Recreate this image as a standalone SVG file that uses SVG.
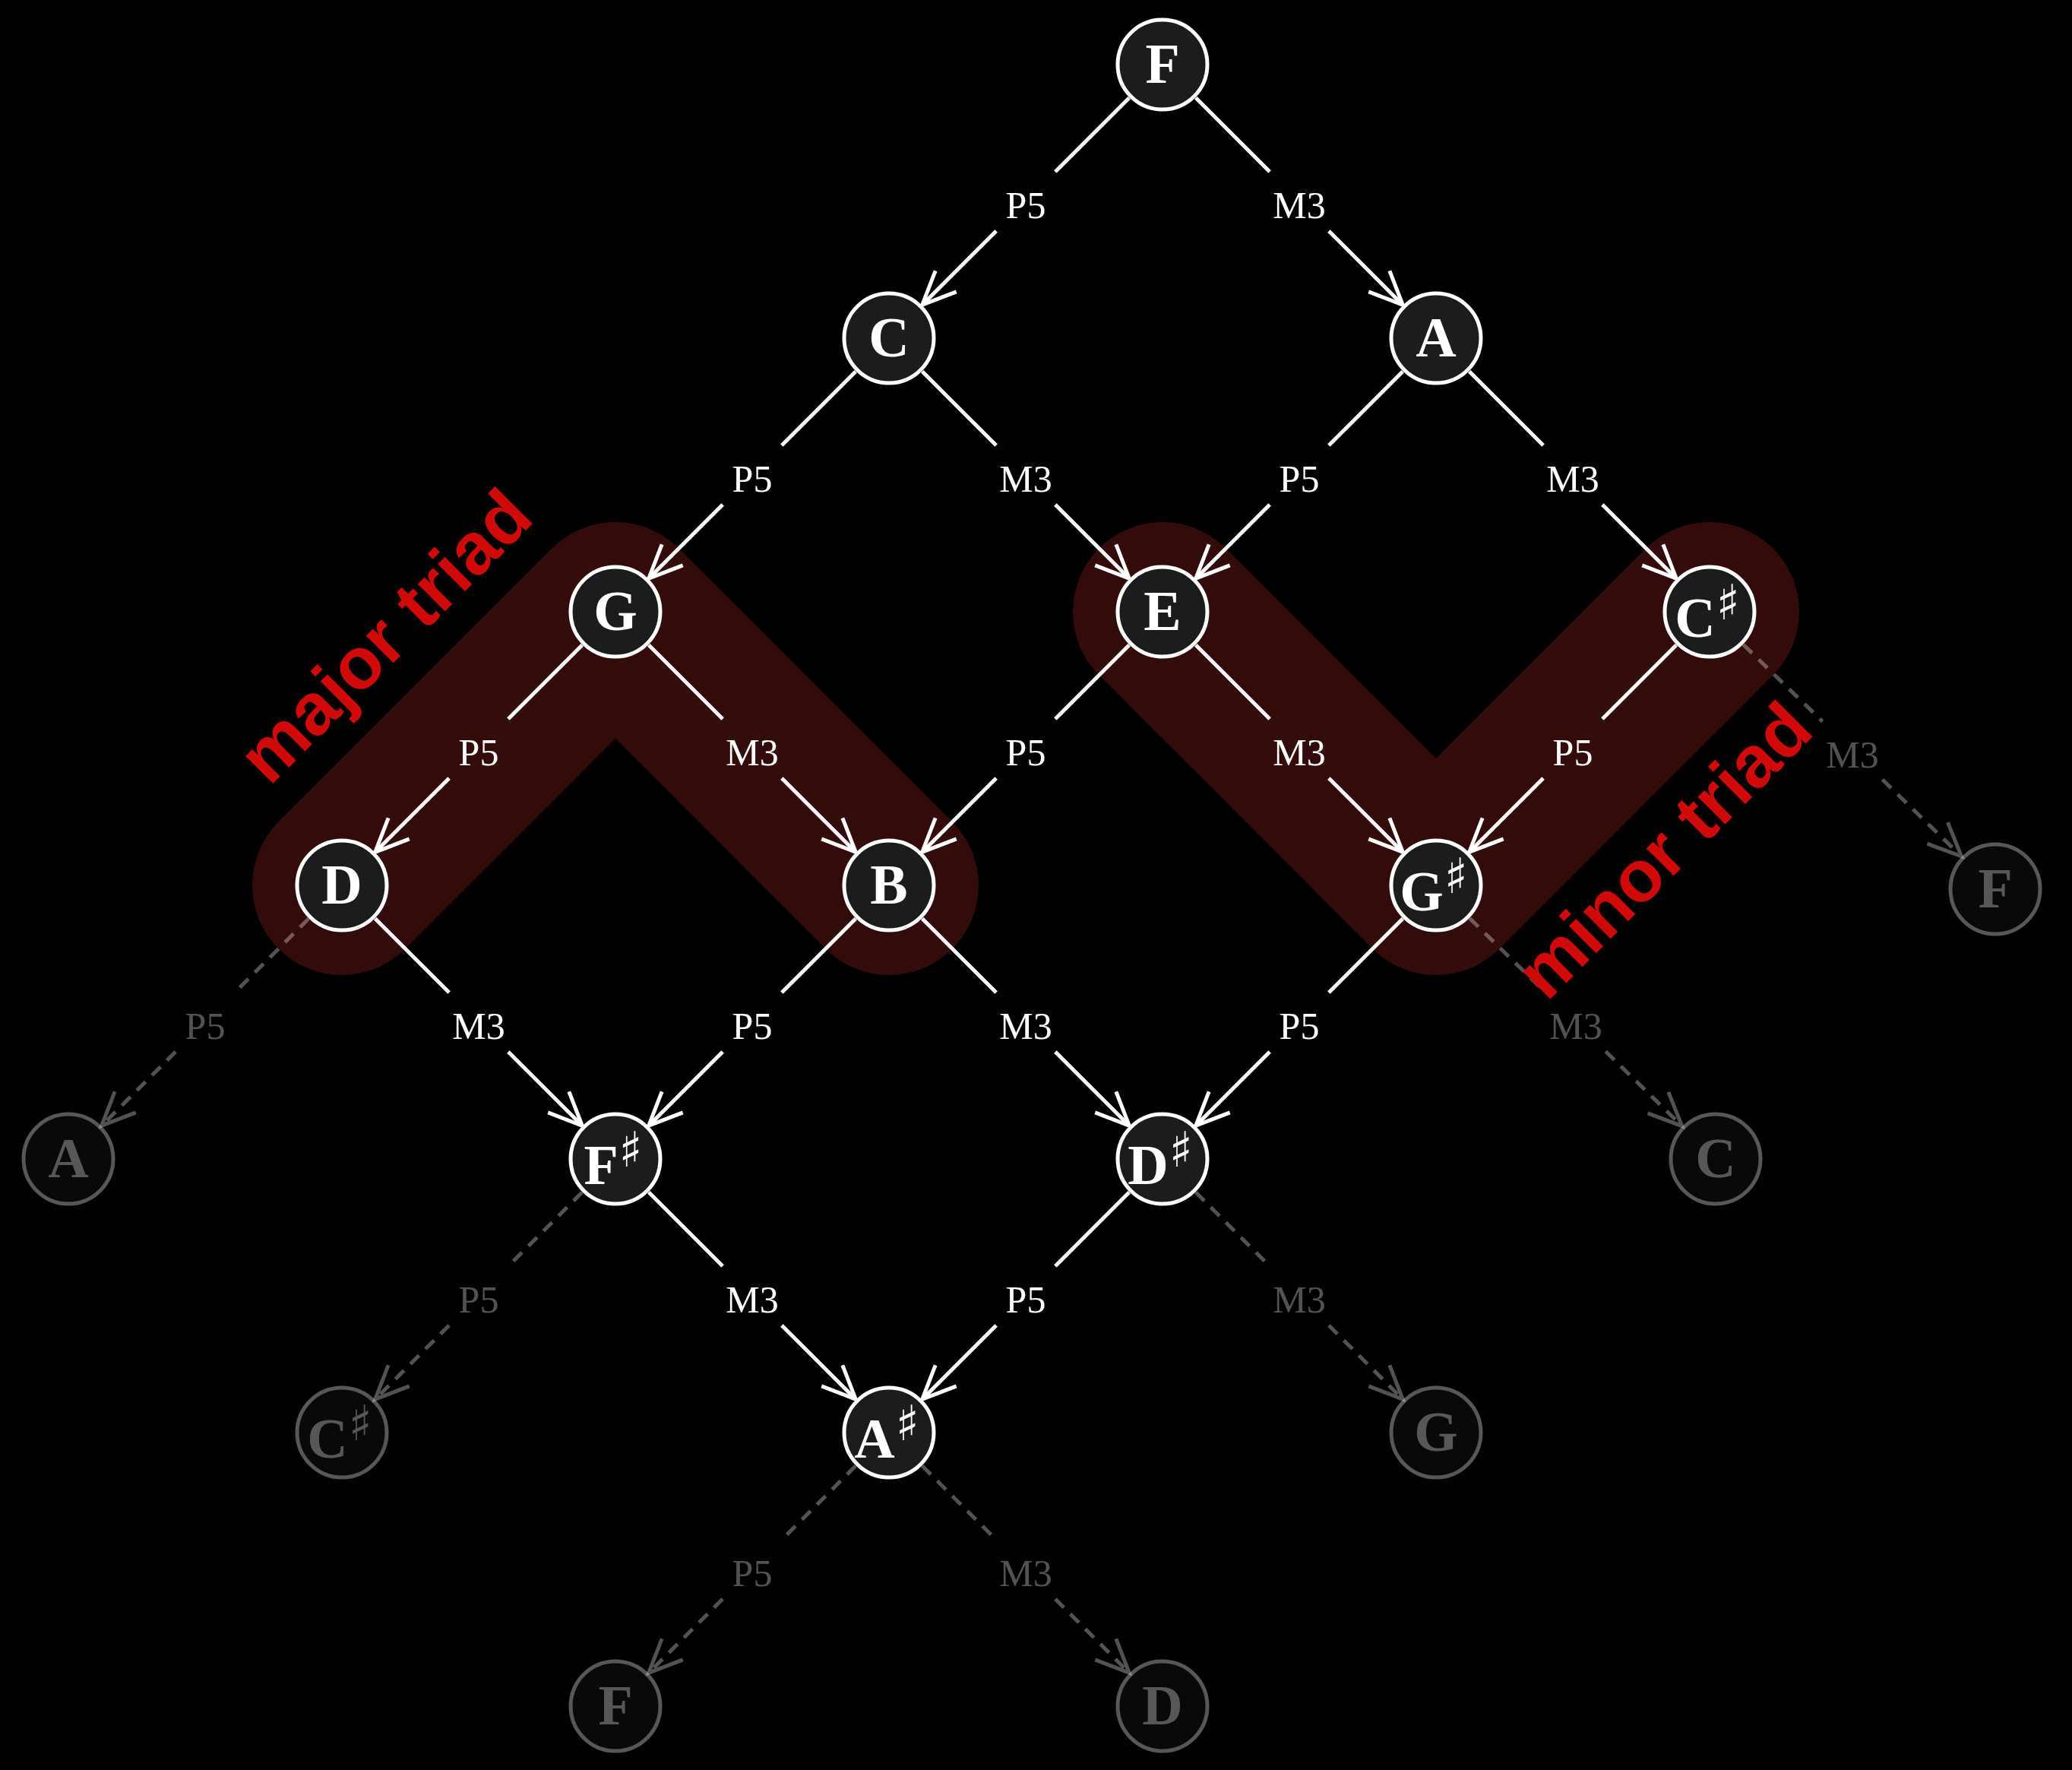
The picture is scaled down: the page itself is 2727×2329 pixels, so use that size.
<svg xmlns="http://www.w3.org/2000/svg" width="2727" height="2329" viewBox="0 0 2727 2329">
<style>
.band{fill:none;stroke:#330b0a;stroke-width:236;stroke-linecap:round;stroke-linejoin:round}
.e line{stroke:#fff;stroke-width:5;fill:none}
.e line.a{marker-end:url(#ah)}
.fd{opacity:0.32}
.fd line{stroke-dasharray:16 12}
.lbl{font-family:"Liberation Serif","Times New Roman",serif;font-size:50px;fill:#fff;text-anchor:middle}
.node circle{fill:#1c1c1c;stroke:#fff;stroke-width:5}
.node text{font-family:"Liberation Serif","Times New Roman",serif;font-weight:bold;font-size:74px;fill:#fff;text-anchor:middle}
.node tspan.s{font-family:"DejaVu Sans",sans-serif;font-weight:normal;font-size:64px}
.faded{opacity:0.34}
.tri{font-family:"Liberation Sans",Arial,sans-serif;font-weight:bold;font-size:96px;fill:#d00a0a;text-anchor:middle}
</style>
<defs>
<marker id="ah" markerUnits="userSpaceOnUse" viewBox="-50 -30 60 60" markerWidth="60" markerHeight="60" refX="0" refY="0" orient="auto" overflow="visible">
<path d="M-44,-19.5 L0,0 L-44,19.5" fill="none" stroke="#fff" stroke-width="5"/>
</marker>
</defs>
<rect width="2727" height="2329" fill="#000"/>
<g id="highlights">
<path class="band" d="M450,1165 L810,805 L1170,1165"/>
<path class="band" d="M1530,805 L1890,1165 L2250,805"/>
</g>
<g id="edges">
<g class="e" id="e-F-C"><line x1="1486.2" y1="128.8" x2="1388.9" y2="226.1"/><line class="a" x1="1311.1" y1="303.9" x2="1213.8" y2="401.2"/><text class="lbl" x="1350" y="287">P5</text></g>
<g class="e" id="e-F-A"><line x1="1573.8" y1="128.8" x2="1671.1" y2="226.1"/><line class="a" x1="1748.9" y1="303.9" x2="1846.2" y2="401.2"/><text class="lbl" x="1710" y="287">M3</text></g>
<g class="e" id="e-C-G"><line x1="1126.2" y1="488.8" x2="1028.9" y2="586.1"/><line class="a" x1="951.1" y1="663.9" x2="853.8" y2="761.2"/><text class="lbl" x="990" y="647">P5</text></g>
<g class="e" id="e-C-E"><line x1="1213.8" y1="488.8" x2="1311.1" y2="586.1"/><line class="a" x1="1388.9" y1="663.9" x2="1486.2" y2="761.2"/><text class="lbl" x="1350" y="647">M3</text></g>
<g class="e" id="e-A-E"><line x1="1846.2" y1="488.8" x2="1748.9" y2="586.1"/><line class="a" x1="1671.1" y1="663.9" x2="1573.8" y2="761.2"/><text class="lbl" x="1710" y="647">P5</text></g>
<g class="e" id="e-A-Cs"><line x1="1933.8" y1="488.8" x2="2031.1" y2="586.1"/><line class="a" x1="2108.9" y1="663.9" x2="2206.2" y2="761.2"/><text class="lbl" x="2070" y="647">M3</text></g>
<g class="e" id="e-G-D"><line x1="766.2" y1="848.8" x2="668.9" y2="946.1"/><line class="a" x1="591.1" y1="1023.9" x2="493.8" y2="1121.2"/><text class="lbl" x="630" y="1007">P5</text></g>
<g class="e" id="e-G-B"><line x1="853.8" y1="848.8" x2="951.1" y2="946.1"/><line class="a" x1="1028.9" y1="1023.9" x2="1126.2" y2="1121.2"/><text class="lbl" x="990" y="1007">M3</text></g>
<g class="e" id="e-E-B"><line x1="1486.2" y1="848.8" x2="1388.9" y2="946.1"/><line class="a" x1="1311.1" y1="1023.9" x2="1213.8" y2="1121.2"/><text class="lbl" x="1350" y="1007">P5</text></g>
<g class="e" id="e-E-Gs"><line x1="1573.8" y1="848.8" x2="1671.1" y2="946.1"/><line class="a" x1="1748.9" y1="1023.9" x2="1846.2" y2="1121.2"/><text class="lbl" x="1710" y="1007">M3</text></g>
<g class="e" id="e-Cs-Gs"><line x1="2206.2" y1="848.8" x2="2108.9" y2="946.1"/><line class="a" x1="2031.1" y1="1023.9" x2="1933.8" y2="1121.2"/><text class="lbl" x="2070" y="1007">P5</text></g>
<g class="e" id="e-D-Fs"><line x1="493.8" y1="1208.8" x2="591.1" y2="1306.1"/><line class="a" x1="668.9" y1="1383.9" x2="766.2" y2="1481.2"/><text class="lbl" x="630" y="1367">M3</text></g>
<g class="e" id="e-B-Fs"><line x1="1126.2" y1="1208.8" x2="1028.9" y2="1306.1"/><line class="a" x1="951.1" y1="1383.9" x2="853.8" y2="1481.2"/><text class="lbl" x="990" y="1367">P5</text></g>
<g class="e" id="e-B-Ds"><line x1="1213.8" y1="1208.8" x2="1311.1" y2="1306.1"/><line class="a" x1="1388.9" y1="1383.9" x2="1486.2" y2="1481.2"/><text class="lbl" x="1350" y="1367">M3</text></g>
<g class="e" id="e-Gs-Ds"><line x1="1846.2" y1="1208.8" x2="1748.9" y2="1306.1"/><line class="a" x1="1671.1" y1="1383.9" x2="1573.8" y2="1481.2"/><text class="lbl" x="1710" y="1367">P5</text></g>
<g class="e" id="e-Fs-As"><line x1="853.8" y1="1568.8" x2="951.1" y2="1666.1"/><line class="a" x1="1028.9" y1="1743.9" x2="1126.2" y2="1841.2"/><text class="lbl" x="990" y="1727">M3</text></g>
<g class="e" id="e-Ds-As"><line x1="1486.2" y1="1568.8" x2="1388.9" y2="1666.1"/><line class="a" x1="1311.1" y1="1743.9" x2="1213.8" y2="1841.2"/><text class="lbl" x="1350" y="1727">P5</text></g>
<g class="e fd" id="e-D-A2"><line x1="406.2" y1="1208.8" x2="308.9" y2="1306.1"/><line class="a" x1="231.1" y1="1383.9" x2="133.8" y2="1481.2"/><text class="lbl" x="270" y="1367">P5</text></g>
<g class="e fd" id="e-Cs-F2"><line x1="2294.5" y1="848.2" x2="2398.5" y2="949.2"/><line class="a" x1="2477.5" y1="1025.8" x2="2581.5" y2="1126.8"/><text class="lbl" x="2438" y="1009.5">M3</text></g>
<g class="e fd" id="e-Gs-C2"><line x1="1934.3" y1="1208.4" x2="2034.7" y2="1306.5"/><line class="a" x1="2113.3" y1="1383.5" x2="2213.7" y2="1481.6"/><text class="lbl" x="2074" y="1367">M3</text></g>
<g class="e fd" id="e-Fs-Cs2"><line x1="766.2" y1="1568.8" x2="668.9" y2="1666.1"/><line class="a" x1="591.1" y1="1743.9" x2="493.8" y2="1841.2"/><text class="lbl" x="630" y="1727">P5</text></g>
<g class="e fd" id="e-Ds-G2"><line x1="1573.8" y1="1568.8" x2="1671.1" y2="1666.1"/><line class="a" x1="1748.9" y1="1743.9" x2="1846.2" y2="1841.2"/><text class="lbl" x="1710" y="1727">M3</text></g>
<g class="e fd" id="e-As-F3"><line x1="1126.2" y1="1928.8" x2="1028.9" y2="2026.1"/><line class="a" x1="951.1" y1="2103.9" x2="853.8" y2="2201.2"/><text class="lbl" x="990" y="2087">P5</text></g>
<g class="e fd" id="e-As-D2"><line x1="1213.8" y1="1928.8" x2="1311.1" y2="2026.1"/><line class="a" x1="1388.9" y1="2103.9" x2="1486.2" y2="2201.2"/><text class="lbl" x="1350" y="2087">M3</text></g>
</g>
<g id="n-F" class="node"><circle cx="1530" cy="85" r="59"/><text x="1530" y="109">F</text></g>
<g id="n-C" class="node"><circle cx="1170" cy="445" r="59"/><text x="1170" y="469">C</text></g>
<g id="n-A" class="node"><circle cx="1890" cy="445" r="59"/><text x="1890" y="469">A</text></g>
<g id="n-G" class="node"><circle cx="810" cy="805" r="59"/><text x="810" y="829">G</text></g>
<g id="n-E" class="node"><circle cx="1530" cy="805" r="59"/><text x="1530" y="829">E</text></g>
<g id="n-Cs" class="node"><circle cx="2250" cy="805" r="59"/><text x="2247" y="838">C<tspan class="s" dx="1" dy="-23">♯</tspan></text></g>
<g id="n-D" class="node"><circle cx="450" cy="1165" r="59"/><text x="450" y="1189">D</text></g>
<g id="n-B" class="node"><circle cx="1170" cy="1165" r="59"/><text x="1170" y="1189">B</text></g>
<g id="n-Gs" class="node"><circle cx="1890" cy="1165" r="59"/><text x="1887" y="1198">G<tspan class="s" dx="1" dy="-23">♯</tspan></text></g>
<g id="n-Fs" class="node"><circle cx="810" cy="1525" r="59"/><text x="807" y="1558">F<tspan class="s" dx="1" dy="-23">♯</tspan></text></g>
<g id="n-Ds" class="node"><circle cx="1530" cy="1525" r="59"/><text x="1527" y="1558">D<tspan class="s" dx="1" dy="-23">♯</tspan></text></g>
<g id="n-As" class="node"><circle cx="1170" cy="1885" r="59"/><text x="1167" y="1918">A<tspan class="s" dx="1" dy="-23">♯</tspan></text></g>
<g id="n-F2" class="node faded"><circle cx="2626" cy="1170" r="59"/><text x="2626" y="1194">F</text></g>
<g id="n-A2" class="node faded"><circle cx="90" cy="1525" r="59"/><text x="90" y="1549">A</text></g>
<g id="n-C2" class="node faded"><circle cx="2258" cy="1525" r="59"/><text x="2258" y="1549">C</text></g>
<g id="n-Cs2" class="node faded"><circle cx="450" cy="1885" r="59"/><text x="447" y="1918">C<tspan class="s" dx="1" dy="-23">♯</tspan></text></g>
<g id="n-G2" class="node faded"><circle cx="1890" cy="1885" r="59"/><text x="1890" y="1909">G</text></g>
<g id="n-F3" class="node faded"><circle cx="810" cy="2245" r="59"/><text x="810" y="2269">F</text></g>
<g id="n-D2" class="node faded"><circle cx="1530" cy="2245" r="59"/><text x="1530" y="2269">D</text></g>
<g id="annotations">
<text class="tri" transform="translate(530,860) rotate(-45)">major triad</text>
<text class="tri" transform="translate(2213,1142) rotate(-45)">minor triad</text>
</g>
</svg>
